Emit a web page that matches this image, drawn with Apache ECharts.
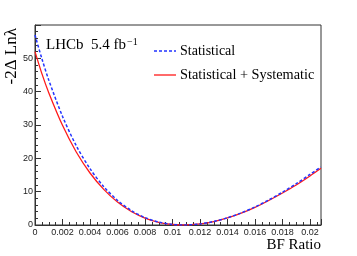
<!DOCTYPE html>
<html>
<head>
<meta charset="utf-8">
<script src="https://cdn.jsdelivr.net/npm/echarts@6/dist/echarts.min.js"></script>
<style>html,body{margin:0;padding:0;background:#fff}#c{width:357px;height:256px}</style>
</head>
<body>
<div id="c"></div>
<script>
// BF Ratio sample points
var bfRatio = [0, 0.0005, 0.001, 0.002, 0.003, 0.004, 0.005, 0.006, 0.007, 0.008, 0.009, 0.010, 0.0108, 0.012, 0.013, 0.014, 0.015, 0.016, 0.017, 0.018, 0.019, 0.020, 0.0208];
// -2 Delta Ln lambda, statistical only
var statistical = [57, 49.9, 43.5, 32.6, 23.8, 16.9, 11.5, 7.39, 4.35, 2.22, 0.87, 0.16, 0, 0.33, 1.05, 2.16, 3.63, 5.42, 7.51, 9.86, 12.4, 15.2, 17.4];
// -2 Delta Ln lambda, statistical + systematic
var statSyst = [52, 45.4, 39.7, 29.9, 21.9, 15.6, 10.7, 6.88, 4.06, 2.08, 0.81, 0.15, 0, 0.32, 1.03, 2.12, 3.56, 5.31, 7.36, 9.6, 12.0, 14.7, 17.0];
var xTicks = [0, 0.002, 0.004, 0.006, 0.008, 0.01, 0.012, 0.014, 0.016, 0.018, 0.02];
var yTicks = [0, 10, 20, 30, 40, 50];
var legendNames = ['Statistical', 'Statistical + Systematic'];

function pairs(xs, ys) { return xs.map(function (x, i) { return [x, ys[i]]; }); }

var blue = '#2233ff', red = '#ff1a1a';
var serif = '"Liberation Serif", "Times New Roman", serif';
var chart = echarts.init(document.getElementById('c'));
var labelFont = { fontFamily: 'Liberation Sans, Arial, sans-serif', fontSize: 9, color: '#222' };
chart.setOption({
  animation: false,
  grid: { left: 35, right: 36, top: 25, bottom: 31, show: true, borderColor: '#333', borderWidth: 1, backgroundColor: 'transparent' },
  xAxis: {
    type: 'value', min: 0, max: 0.0208, interval: 0.002,
    axisLine: { show: true, lineStyle: { color: '#333', width: 1 } },
    axisTick: { show: true, inside: true, length: 6, lineStyle: { color: '#333' } },
    minorTick: { show: true, splitNumber: 4, length: 3, lineStyle: { color: '#333' } },
    splitLine: { show: false },
    axisLabel: Object.assign({ margin: 3, formatter: function (v) {
      var r = parseFloat(v.toFixed(4));
      return xTicks.indexOf(r) >= 0 ? String(r) : '';
    } }, labelFont)
  },
  yAxis: {
    type: 'value', min: 0, max: 60, interval: 10,
    axisLine: { show: true, lineStyle: { color: '#333', width: 1 } },
    axisTick: { show: true, inside: true, length: 6, lineStyle: { color: '#333' } },
    minorTick: { show: true, splitNumber: 5, length: 3, lineStyle: { color: '#333' } },
    splitLine: { show: false },
    axisLabel: Object.assign({ margin: 2, formatter: function (v) {
      return yTicks.indexOf(v) >= 0 ? String(v) : '';
    } }, labelFont)
  },
  series: [
    { name: legendNames[0], type: 'line', symbol: 'none', smooth: 0.3, z: 3,
      lineStyle: { color: blue, width: 1.5, type: [3, 2] },
      data: pairs(bfRatio, statistical) },
    { name: legendNames[1], type: 'line', symbol: 'none', smooth: 0.3, z: 2,
      lineStyle: { color: red, width: 1.3 },
      data: pairs(bfRatio, statSyst) }
  ],
  graphic: [
    { type: 'text', left: 46, top: 37, style: {
      text: '{a|LHCb  5.4 fb}{s|−1}',
      rich: {
        a: { fontFamily: serif, fontSize: 15, fill: '#000', verticalAlign: 'bottom', lineHeight: 16 },
        s: { fontFamily: serif, fontSize: 10, fill: '#000', verticalAlign: 'top', lineHeight: 16, padding: [0, 0, 7, 1] }
      } } },
    { type: 'line', shape: { x1: 154, y1: 51, x2: 176, y2: 51 }, style: { stroke: blue, lineWidth: 1.5, lineDash: [3, 2] } },
    { type: 'text', x: 180, y: 51, style: { text: legendNames[0], align: 'left', verticalAlign: 'middle', font: '14px ' + serif, fill: '#000' } },
    { type: 'line', shape: { x1: 154, y1: 75, x2: 176, y2: 75 }, style: { stroke: red, lineWidth: 1.3 } },
    { type: 'text', x: 180, y: 75, style: { text: legendNames[1], align: 'left', verticalAlign: 'middle', font: '14.3px ' + serif, fill: '#000' } },
    { type: 'text', x: 12, y: 28, rotation: Math.PI / 2, style: {
      text: '-2Δ Lnλ', align: 'right', verticalAlign: 'middle',
      font: '17px ' + serif, fill: '#000' } },
    { type: 'text', x: 321, y: 245, style: {
      text: 'BF Ratio', align: 'right', verticalAlign: 'middle',
      font: '15px ' + serif, fill: '#000' } }
  ]
});
</script>
</body>
</html>
